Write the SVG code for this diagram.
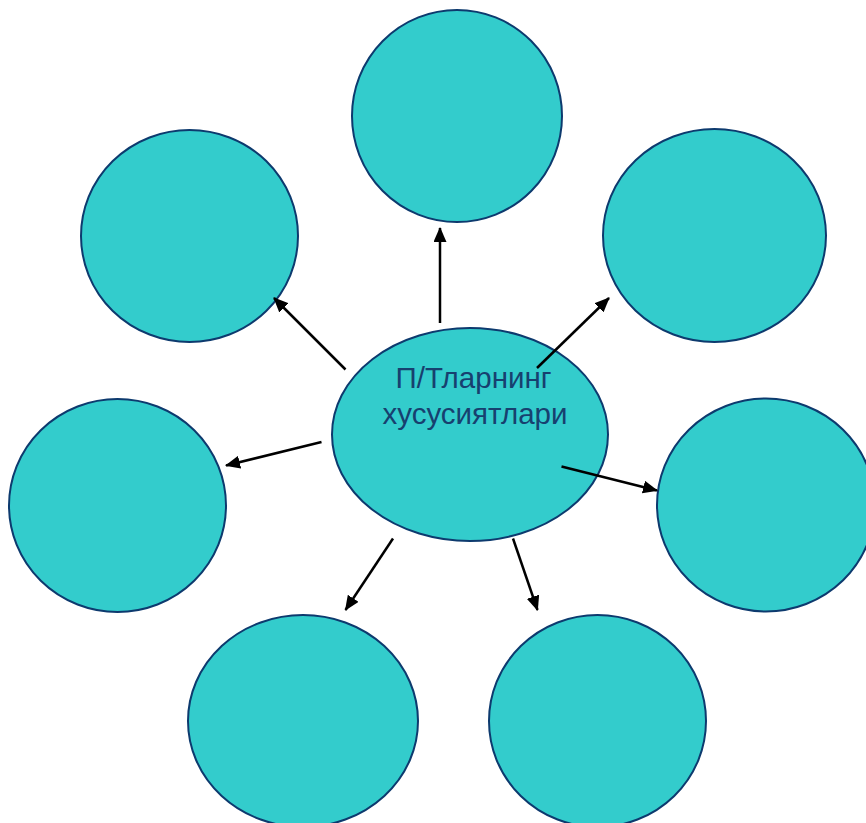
<svg xmlns="http://www.w3.org/2000/svg" width="866" height="823" viewBox="0 0 866 823">
<style>
.node ellipse{fill:#33CCCC;stroke:#0D3A6E;stroke-width:2}
.conn line{stroke:#000;stroke-width:2.5;marker-end:url(#ah)}
.lbl{font-family:"Liberation Sans",Arial,sans-serif;font-size:29.5px;fill:#17406F;text-anchor:middle}
</style>
<defs>
<marker id="ah" markerUnits="userSpaceOnUse" markerWidth="15" markerHeight="13" refX="14" refY="6.5" orient="auto">
<path d="M0,0 L15,6.5 L0,13 Z" fill="#000"/>
</marker>
</defs>
<rect width="866" height="823" fill="#fff"/>
<g id="n-top" class="node"><ellipse cx="457" cy="116" rx="105" ry="106"/></g>
<g id="n-topleft" class="node"><ellipse cx="189.5" cy="236" rx="108.5" ry="106"/></g>
<g id="n-topright" class="node"><ellipse cx="714.5" cy="235.5" rx="111.5" ry="106.5"/></g>
<g id="n-left" class="node"><ellipse cx="117.5" cy="505.5" rx="108.5" ry="106.5"/></g>
<g id="n-right" class="node"><ellipse cx="766" cy="505" rx="109" ry="106.5"/></g>
<g id="n-bottomleft" class="node"><ellipse cx="303" cy="721" rx="115" ry="106"/></g>
<g id="n-bottomright" class="node"><ellipse cx="597.5" cy="721" rx="108.5" ry="106"/></g>
<g id="n-center" class="node"><ellipse cx="470" cy="434.5" rx="138" ry="106.5"/>
<text class="lbl" x="473.5" y="388">П/Тларнинг</text>
<text class="lbl" x="475" y="424">хусусиятлари</text>
</g>
<g id="connectors" class="conn">
<line x1="440" y1="323" x2="440" y2="228"/>
<line x1="345.5" y1="369.5" x2="274" y2="298"/>
<line x1="537" y1="368" x2="609" y2="298"/>
<line x1="321.5" y1="442" x2="226" y2="465.5"/>
<line x1="561.5" y1="466.5" x2="657" y2="490.5"/>
<line x1="393" y1="538.5" x2="345.5" y2="610"/>
<line x1="513" y1="538.5" x2="537.5" y2="610"/>
</g>
</svg>
